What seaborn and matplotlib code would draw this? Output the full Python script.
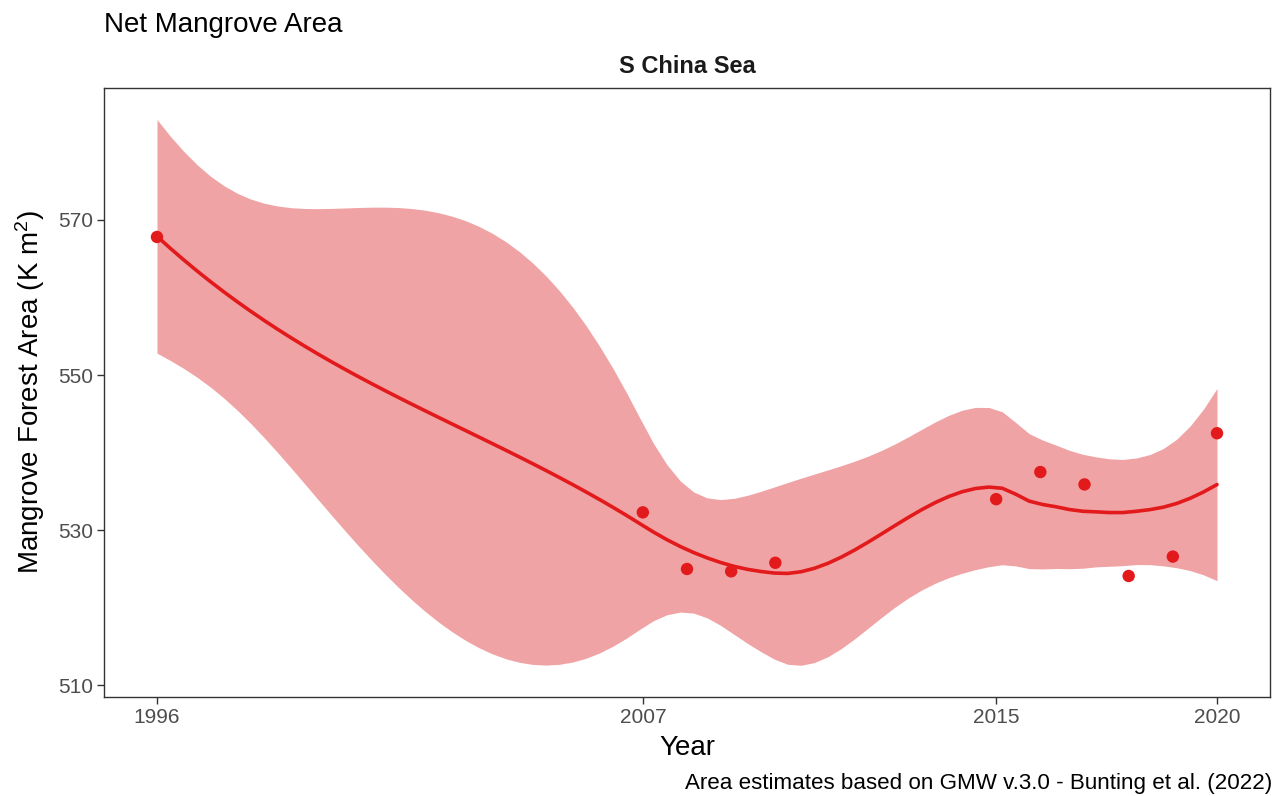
import math
import numpy as np
import pandas as pd
import matplotlib
matplotlib.use("Agg")
import matplotlib.pyplot as plt
import seaborn as sns

# ---------------- data ----------------
YEARS = [1996, 2007, 2008, 2009, 2010, 2015, 2016, 2017, 2018, 2019, 2020]
AREA = [567.8, 532.3, 525.0, 524.7, 525.8, 534.0, 537.5, 535.9, 524.1, 526.6, 542.5]
X_TICKS = [1996, 2007, 2015, 2020]
Y_TICKS = [510, 530, 550, 570]
TITLE = "Net Mangrove Area"
FACET = "S China Sea"
X_LABEL = "Year"
Y_LABEL = r"Mangrove Forest Area (K m$^2$)"
CAPTION = "Area estimates based on GMW v.3.0 - Bunting et al. (2022)"

RED = "#E31A1C"
RIBBON = "#F0A3A5"

# ---------------- loess (R default: span .75, degree 2, interpolate) ----------------
SPAN = 0.75
CELL = 0.2


def local_ops(v, x, q):
    d = np.abs(x - v)
    rho = np.sort(d)[q - 1]
    u = d / rho
    w = np.where(u < 1, (1 - u ** 3) ** 3, 0.0)
    X = np.column_stack([np.ones_like(x), x - v, (x - v) ** 2])
    W = np.diag(w)
    B = np.linalg.pinv(X.T @ W @ X) @ X.T @ W
    return B[0], B[1]


def kd_vertices(xs, fc):
    xs = np.sort(xs)
    lo, hi = xs.min(), xs.max()
    mu = 0.005 * (hi - lo)
    verts = {lo - mu, hi + mu}

    def split(l0, u0, a, b):
        if u0 - l0 + 1 <= fc:
            return
        m1 = ((l0 + 1) + (u0 + 1)) // 2
        m0 = m1 - 1
        t = xs[m0]
        if t == a or t == b:
            return
        verts.add(t)
        split(l0, m0, a, t)
        split(m0 + 1, u0, t, b)

    split(0, len(xs) - 1, lo - mu, hi + mu)
    return np.array(sorted(verts))


def interp_rows(xq, verts, L0, L1):
    rows = []
    for xv in xq:
        k = np.searchsorted(verts, xv, side="right") - 1
        k = min(max(k, 0), len(verts) - 2)
        a, b = verts[k], verts[k + 1]
        h = b - a
        t = (xv - a) / h
        phi0 = (1 - t) ** 2 * (1 + 2 * t)
        phi1 = t ** 2 * (3 - 2 * t)
        psi0 = t * (1 - t) ** 2
        psi1 = -t ** 2 * (1 - t)
        rows.append(phi0 * L0[k] + phi1 * L0[k + 1] + h * (psi0 * L1[k] + psi1 * L1[k + 1]))
    return np.array(rows)


def t_quantile(p, df):
    c = math.exp(math.lgamma((df + 1) / 2) - math.lgamma(df / 2)) / math.sqrt(df * math.pi)

    def cdf(tv):
        g = np.linspace(0, tv, 4001)
        f = c * (1 + g ** 2 / df) ** (-(df + 1) / 2)
        return 0.5 + np.trapezoid(f, g)

    lo_, hi_ = 0.0, 60.0
    for _ in range(80):
        mid = (lo_ + hi_) / 2
        if cdf(mid) < p:
            lo_ = mid
        else:
            hi_ = mid
    return (lo_ + hi_) / 2


x = np.array(YEARS, dtype=float)
y = np.array(AREA, dtype=float)
n = len(x)
q = int(math.floor(n * SPAN + 1e-5))
fc = int(math.floor(n * SPAN * CELL))
verts = kd_vertices(x, fc)
ops = [local_ops(v, x, q) for v in verts]
L0 = np.array([o[0] for o in ops])
L1 = np.array([o[1] for o in ops])

Lhat = interp_rows(x, verts, L0, L1)
res = y - Lhat @ y
IL = np.eye(n) - Lhat
M = IL.T @ IL
delta1 = np.trace(M)
delta2 = np.trace(M @ M)
s = math.sqrt(np.sum(res ** 2) / delta1)
dfree = delta1 ** 2 / delta2
tq = t_quantile(0.975, dfree)

xg = np.linspace(x.min(), x.max(), 80)
Lg = interp_rows(xg, verts, L0, L1)
fit = Lg @ y
se = s * np.sqrt(np.sum(Lg ** 2, axis=1))
smooth = pd.DataFrame({"Year": xg, "fit": fit, "lo": fit - tq * se, "hi": fit + tq * se})
pts = pd.DataFrame({"Year": YEARS, "Area": AREA})

# ---------------- plot ----------------
sns.set_theme(style="white")
plt.rcParams["font.family"] = ["Liberation Sans", "DejaVu Sans"]
plt.rcParams["mathtext.fontset"] = "custom"
plt.rcParams["mathtext.rm"] = "Liberation Sans"
plt.rcParams["mathtext.it"] = "Liberation Sans"

W_PX, H_PX = 1282, 796
fig = plt.figure(figsize=(W_PX / 100, H_PX / 100), dpi=100)
P_L, P_R, P_T, P_B = 104, 1270, 88, 697
ax = fig.add_axes([P_L / W_PX, 1 - P_B / H_PX, (P_R - P_L) / W_PX, (P_B - P_T) / H_PX])

ax.fill_between(smooth["Year"], smooth["lo"], smooth["hi"], color=RIBBON, linewidth=0, zorder=1)
sns.lineplot(data=smooth, x="Year", y="fit", color=RED, linewidth=2.6, ax=ax, zorder=2)
sns.scatterplot(data=pts, x="Year", y="Area", color=RED, s=80, edgecolor="none", ax=ax, zorder=3)

xr = x.max() - x.min()
ax.set_xlim(x.min() - 0.05 * xr, x.max() + 0.05 * xr)
ax.set_ylim(508.5, 587.0)

ax.set_xticks(X_TICKS)
ax.set_xticklabels([str(v) for v in X_TICKS])
ax.set_yticks(Y_TICKS)
ax.set_yticklabels([str(v) for v in Y_TICKS])
ax.tick_params(axis="both", which="major", length=5, width=1, color="#333333",
               labelcolor="#4D4D4D", labelsize=15, pad=3, direction="out",
               bottom=True, left=True)
for sp in ax.spines.values():
    sp.set_color("#333333")
    sp.set_linewidth(1.0)

ax.set_xlabel(X_LABEL, fontsize=20, color="black")
ax.xaxis.label.set_va("baseline")
ax.xaxis.set_label_coords(0.5, (P_B - 755) / (P_B - P_T))
ax.set_ylabel(Y_LABEL, fontsize=20, color="black", labelpad=8)
ax.set_title(FACET, fontsize=17, fontweight="bold", color="#1A1A1A", pad=11)

fig.text(P_L / W_PX, 1 - 32 / H_PX, TITLE, fontsize=20, ha="left", va="baseline", color="black")
fig.text(1272 / W_PX, 1 - 789 / H_PX, CAPTION, fontsize=16.1, ha="right", va="baseline", color="black")

fig.savefig("out.png", dpi=100)
